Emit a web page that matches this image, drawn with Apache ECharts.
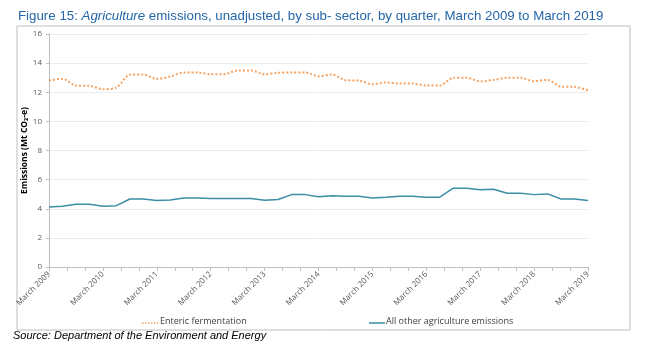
<!DOCTYPE html>
<html>
<head>
<meta charset="utf-8">
<script src="https://cdn.jsdelivr.net/npm/echarts@6/dist/echarts.min.js"></script>
<style>
  html, body { margin: 0; padding: 0; background: #fff; }
  #chart { width: 652px; height: 351px; }
</style>
</head>
<body>
<div id="chart"></div>
<script>
// quarterly values, March 2009 .. March 2019 (41 quarters)
var years = ["2009", "2010", "2011", "2012", "2013", "2014", "2015", "2016", "2017", "2018", "2019"];
var enteric = [
  12.80, 12.92, 12.46, 12.44, 12.21, 12.32, 13.20, 13.22, 12.92, 13.08,
  13.36, 13.36, 13.24, 13.24, 13.49, 13.49, 13.24, 13.33, 13.36, 13.36,
  13.10, 13.22, 12.83, 12.80, 12.55, 12.67, 12.60, 12.60, 12.46, 12.46,
  12.99, 12.99, 12.74, 12.85, 12.99, 12.99, 12.76, 12.85, 12.39, 12.37,
  12.12
];
var otherAg = [
  4.12, 4.17, 4.31, 4.31, 4.17, 4.21, 4.67, 4.67, 4.56, 4.60,
  4.74, 4.74, 4.70, 4.70, 4.70, 4.70, 4.58, 4.63, 4.97, 4.97,
  4.83, 4.90, 4.86, 4.86, 4.74, 4.79, 4.86, 4.86, 4.79, 4.79,
  5.41, 5.41, 5.30, 5.34, 5.06, 5.06, 4.97, 5.02, 4.67, 4.67,
  4.56
];
var entericColor = "#f5a261";
var otherColor = "#3b8ea5";

function toPoints(arr) {
  return arr.map(function (v, i) { return [i, v]; });
}

var myChart = echarts.init(document.getElementById("chart"));
var legendFont = "9px 'Open Sans'";
var option = {
  animation: false,
  title: {
    left: 13,
    top: 5,
    text: "{n|Figure 15: }{i|Agriculture}{n| emissions, unadjusted, by sub- sector, by quarter, March 2009 to March 2019}",
    textStyle: {
      rich: {
        n: { fontFamily: "Liberation Sans", fontSize: 13.3, fontWeight: "normal", color: "#2466a8" },
        i: { fontFamily: "Liberation Sans", fontSize: 13.3, fontWeight: "normal", fontStyle: "italic", color: "#2466a8" }
      }
    }
  },
  graphic: [
    {
      type: "rect",
      shape: { x: 17, y: 26, width: 613, height: 304 },
      style: { fill: "none", stroke: "#bfbfbf", lineWidth: 1 }
    },
    // legend
    {
      type: "line",
      shape: { x1: 142, y1: 323, x2: 158, y2: 323 },
      style: { stroke: entericColor, lineWidth: 1.5, lineDash: [1.5, 1.5] }
    },
    {
      type: "text",
      x: 160, y: 317,
      style: { text: "Enteric fermentation", font: legendFont, fill: "#404040" }
    },
    {
      type: "line",
      shape: { x1: 369, y1: 323, x2: 385, y2: 323 },
      style: { stroke: otherColor, lineWidth: 1.5 }
    },
    {
      type: "text",
      x: 386, y: 317,
      style: { text: "All other agriculture emissions", font: legendFont, fill: "#404040" }
    },
    {
      type: "text",
      left: 13,
      top: 330,
      style: {
        text: "Source: Department of the Environment and Energy",
        font: "italic 11px 'Liberation Sans'",
        fill: "#000"
      }
    }
  ],
  grid: { left: 49, right: 64, top: 34, bottom: 84 },
  xAxis: {
    type: "value",
    min: 0,
    max: 40,
    interval: 4,
    splitLine: { show: false },
    axisLine: { lineStyle: { color: "#bfbfbf" } },
    axisTick: { show: true, length: 4, lineStyle: { color: "#bfbfbf" } },
    minorTick: { show: true, splitNumber: 3, length: 4, lineStyle: { color: "#bfbfbf" } },
    axisLabel: {
      rotate: 45,
      fontFamily: "Open Sans",
      fontSize: 8,
      color: "#595959",
      margin: 6,
      formatter: function (v) { return "March " + years[Math.round(v / 4)]; }
    }
  },
  yAxis: {
    type: "value",
    min: 0,
    max: 16,
    interval: 2,
    name: "Emissions (Mt CO\u2082-e)",
    nameLocation: "middle",
    nameGap: 20,
    nameMoveOverlap: false,
    nameTextStyle: { fontFamily: "Open Sans", fontSize: 8.5, fontWeight: "bold", color: "#000" },
    axisLine: { show: true, lineStyle: { color: "#bfbfbf" } },
    axisTick: { show: true, length: 3, lineStyle: { color: "#bfbfbf" } },
    axisLabel: { fontFamily: "Open Sans", fontSize: 8, color: "#595959", margin: 7 },
    splitLine: { lineStyle: { color: "#ececec" } }
  },
  series: [
    {
      name: "Enteric fermentation",
      type: "line",
      smooth: 0.3,
      symbol: "none",
      itemStyle: { color: entericColor },
      lineStyle: { color: entericColor, width: 2, type: [2, 2] },
      data: toPoints(enteric)
    },
    {
      name: "All other agriculture emissions",
      type: "line",
      symbol: "none",
      itemStyle: { color: otherColor },
      lineStyle: { color: otherColor, width: 1.5 },
      data: toPoints(otherAg)
    }
  ]
};
myChart.setOption(option);
</script>
</body>
</html>
